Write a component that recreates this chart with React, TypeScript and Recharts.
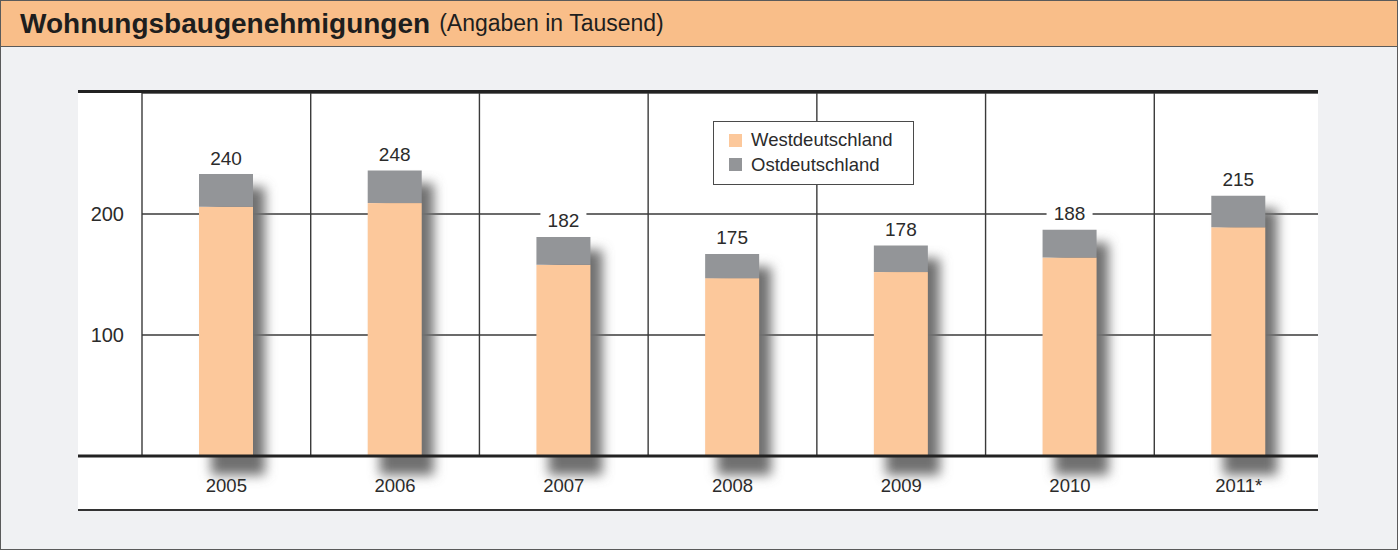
import { BarChart, Bar, XAxis, YAxis, CartesianGrid, Legend, LabelList } from "recharts";

// Wohnungsbaugenehmigungen, Angaben in Tausend
const years = ["2005", "2006", "2007", "2008", "2009", "2010", "2011*"];
const west = [206, 209, 158, 147, 152, 164, 189];
const east = [27, 27, 23, 20, 22, 23, 26];
const totals = [240, 248, 182, 175, 178, 188, 215];
const yTicks = [100, 200];
const seriesNames = ["Westdeutschland", "Ostdeutschland"];
const seriesColors = ["#FCC89B", "#939598"];

const data = years.map((year, i) => ({ year, west: west[i], east: east[i], total: totals[i] }));

const FONT = "'Liberation Sans', Arial, sans-serif";
const TEXT = "#2b2b2b";
const GRID = "#3a3a3a";

const CHART_W = 1240;
const CHART_H = 416;
const PAD_L = 64;
const PAD_R = -5;

// west bar carries the drop shadow of the whole stack
function ShadowBar(props: any) {
  const { x, y, width, height, payload, fill, index } = props;
  const full = (height * (payload.west + payload.east)) / payload.west;
  const top = y + height - full;
  const id = `shadow-${index}`;
  return (
    <g>
      <defs>
        <filter id={id} filterUnits="userSpaceOnUse" x={x - 20} y={top - 20} width={width + 70} height={full + 80}>
          <feGaussianBlur stdDeviation="6" />
        </filter>
      </defs>
      <rect x={x + 12} y={top + 13} width={width} height={full + 6} fill="#707070" filter={`url(#${id})`} />
      <rect x={x} y={y} width={width} height={height} fill={fill} />
    </g>
  );
}

function TotalLabel(props: any) {
  const { x, y, width, index } = props;
  const cx = x + width / 2;
  const cy = y - 16;
  return (
    <g>
      <rect x={cx - 23} y={cy - 11} width={46} height={22} fill="#fff" />
      <text x={cx} y={cy} textAnchor="middle" dominantBaseline="central" fontSize={19} fontFamily={FONT} fill={TEXT}>
        {totals[index]}
      </text>
    </g>
  );
}

const XTick = ({ x, y, payload }: any) => (
  <text x={x} y={y + 29} textAnchor="middle" dominantBaseline="central" fontSize={18.5} fontFamily={FONT} fill={TEXT}>
    {payload.value}
  </text>
);

const YTick = ({ y, payload }: any) => (
  <text x={46} y={y} textAnchor="end" dominantBaseline="central" fontSize={20} fontFamily={FONT} fill={TEXT}>
    {payload.value}
  </text>
);

// category boundaries, not band centres
const verticalLines = ({ offset }: any) => {
  const left = (offset?.left ?? 0) + PAD_L;
  const band = ((offset?.width ?? CHART_W) - PAD_L - PAD_R) / years.length;
  return years.map((_, i) => left + i * band);
};

const LegendBox = () => (
  <div
    style={{
      boxSizing: "border-box",
      width: 201,
      height: 64,
      background: "#fff",
      border: "1.5px solid #4a4a4a",
      padding: "6px 0 0 15px",
      fontFamily: FONT,
      fontSize: 18.5,
      color: TEXT,
    }}
  >
    {seriesNames.map((name, i) => (
      <div key={name} style={{ display: "flex", alignItems: "center", height: 24.5 }}>
        <span style={{ width: 13, height: 13, background: seriesColors[i], marginRight: 9 }} />
        <span>{name}</span>
      </div>
    ))}
  </div>
);

export default function App() {
  return (
    <div
      style={{
        position: "absolute",
        left: 0,
        top: 0,
        width: 1398,
        height: 550,
        boxSizing: "border-box",
        border: "1px solid #5a5a5a",
        background: "#F0F1F3",
        fontFamily: FONT,
      }}
    >
      <div
        style={{
          height: 45,
          background: "#F9BE89",
          borderBottom: "1px solid #5a5a5a",
          display: "flex",
          alignItems: "center",
          paddingLeft: 19,
          color: "#1e1e1e",
          whiteSpace: "nowrap",
        }}
      >
        <span style={{ fontWeight: 700, fontSize: 28 }}>Wohnungsbaugenehmigungen</span>
        <span style={{ fontSize: 23, marginLeft: 9 }}>(Angaben in Tausend)</span>
      </div>
      <div
        style={{
          position: "absolute",
          left: 77,
          top: 89,
          width: CHART_W,
          height: CHART_H,
          background: "#fff",
          borderTop: "3px solid #222",
          borderBottom: "2px solid #333",
        }}
      >
        <BarChart width={CHART_W} height={CHART_H} data={data} margin={{ top: 0, right: 0, bottom: 0, left: 0 }} barSize={54}>
          <CartesianGrid
            x={PAD_L}
            width={CHART_W - PAD_L}
            stroke={GRID}
            strokeWidth={1.4}
            verticalCoordinatesGenerator={verticalLines}
          />
          <XAxis
            dataKey="year"
            interval={0}
            padding={{ left: PAD_L, right: PAD_R }}
            height={53}
            axisLine={{ stroke: "#222", strokeWidth: 3 }}
            tickLine={false}
            tickSize={0}
            tickMargin={0}
            tick={<XTick />}
          />
          <YAxis
            mirror
            domain={[0, 300]}
            ticks={yTicks}
            axisLine={false}
            tickLine={false}
            tick={<YTick />}
          />
          <Legend
            layout="vertical"
            align="center"
            verticalAlign="middle"
            content={<LegendBox />}
            wrapperStyle={{ left: 635, top: 28, width: 201, height: 64 }}
          />
          <Bar dataKey="west" name={seriesNames[0]} stackId="a" fill={seriesColors[0]} shape={<ShadowBar />} isAnimationActive={false} />
          <Bar dataKey="east" name={seriesNames[1]} stackId="a" fill={seriesColors[1]} isAnimationActive={false}>
            <LabelList dataKey="total" content={<TotalLabel />} />
          </Bar>
        </BarChart>
      </div>
    </div>
  );
}
